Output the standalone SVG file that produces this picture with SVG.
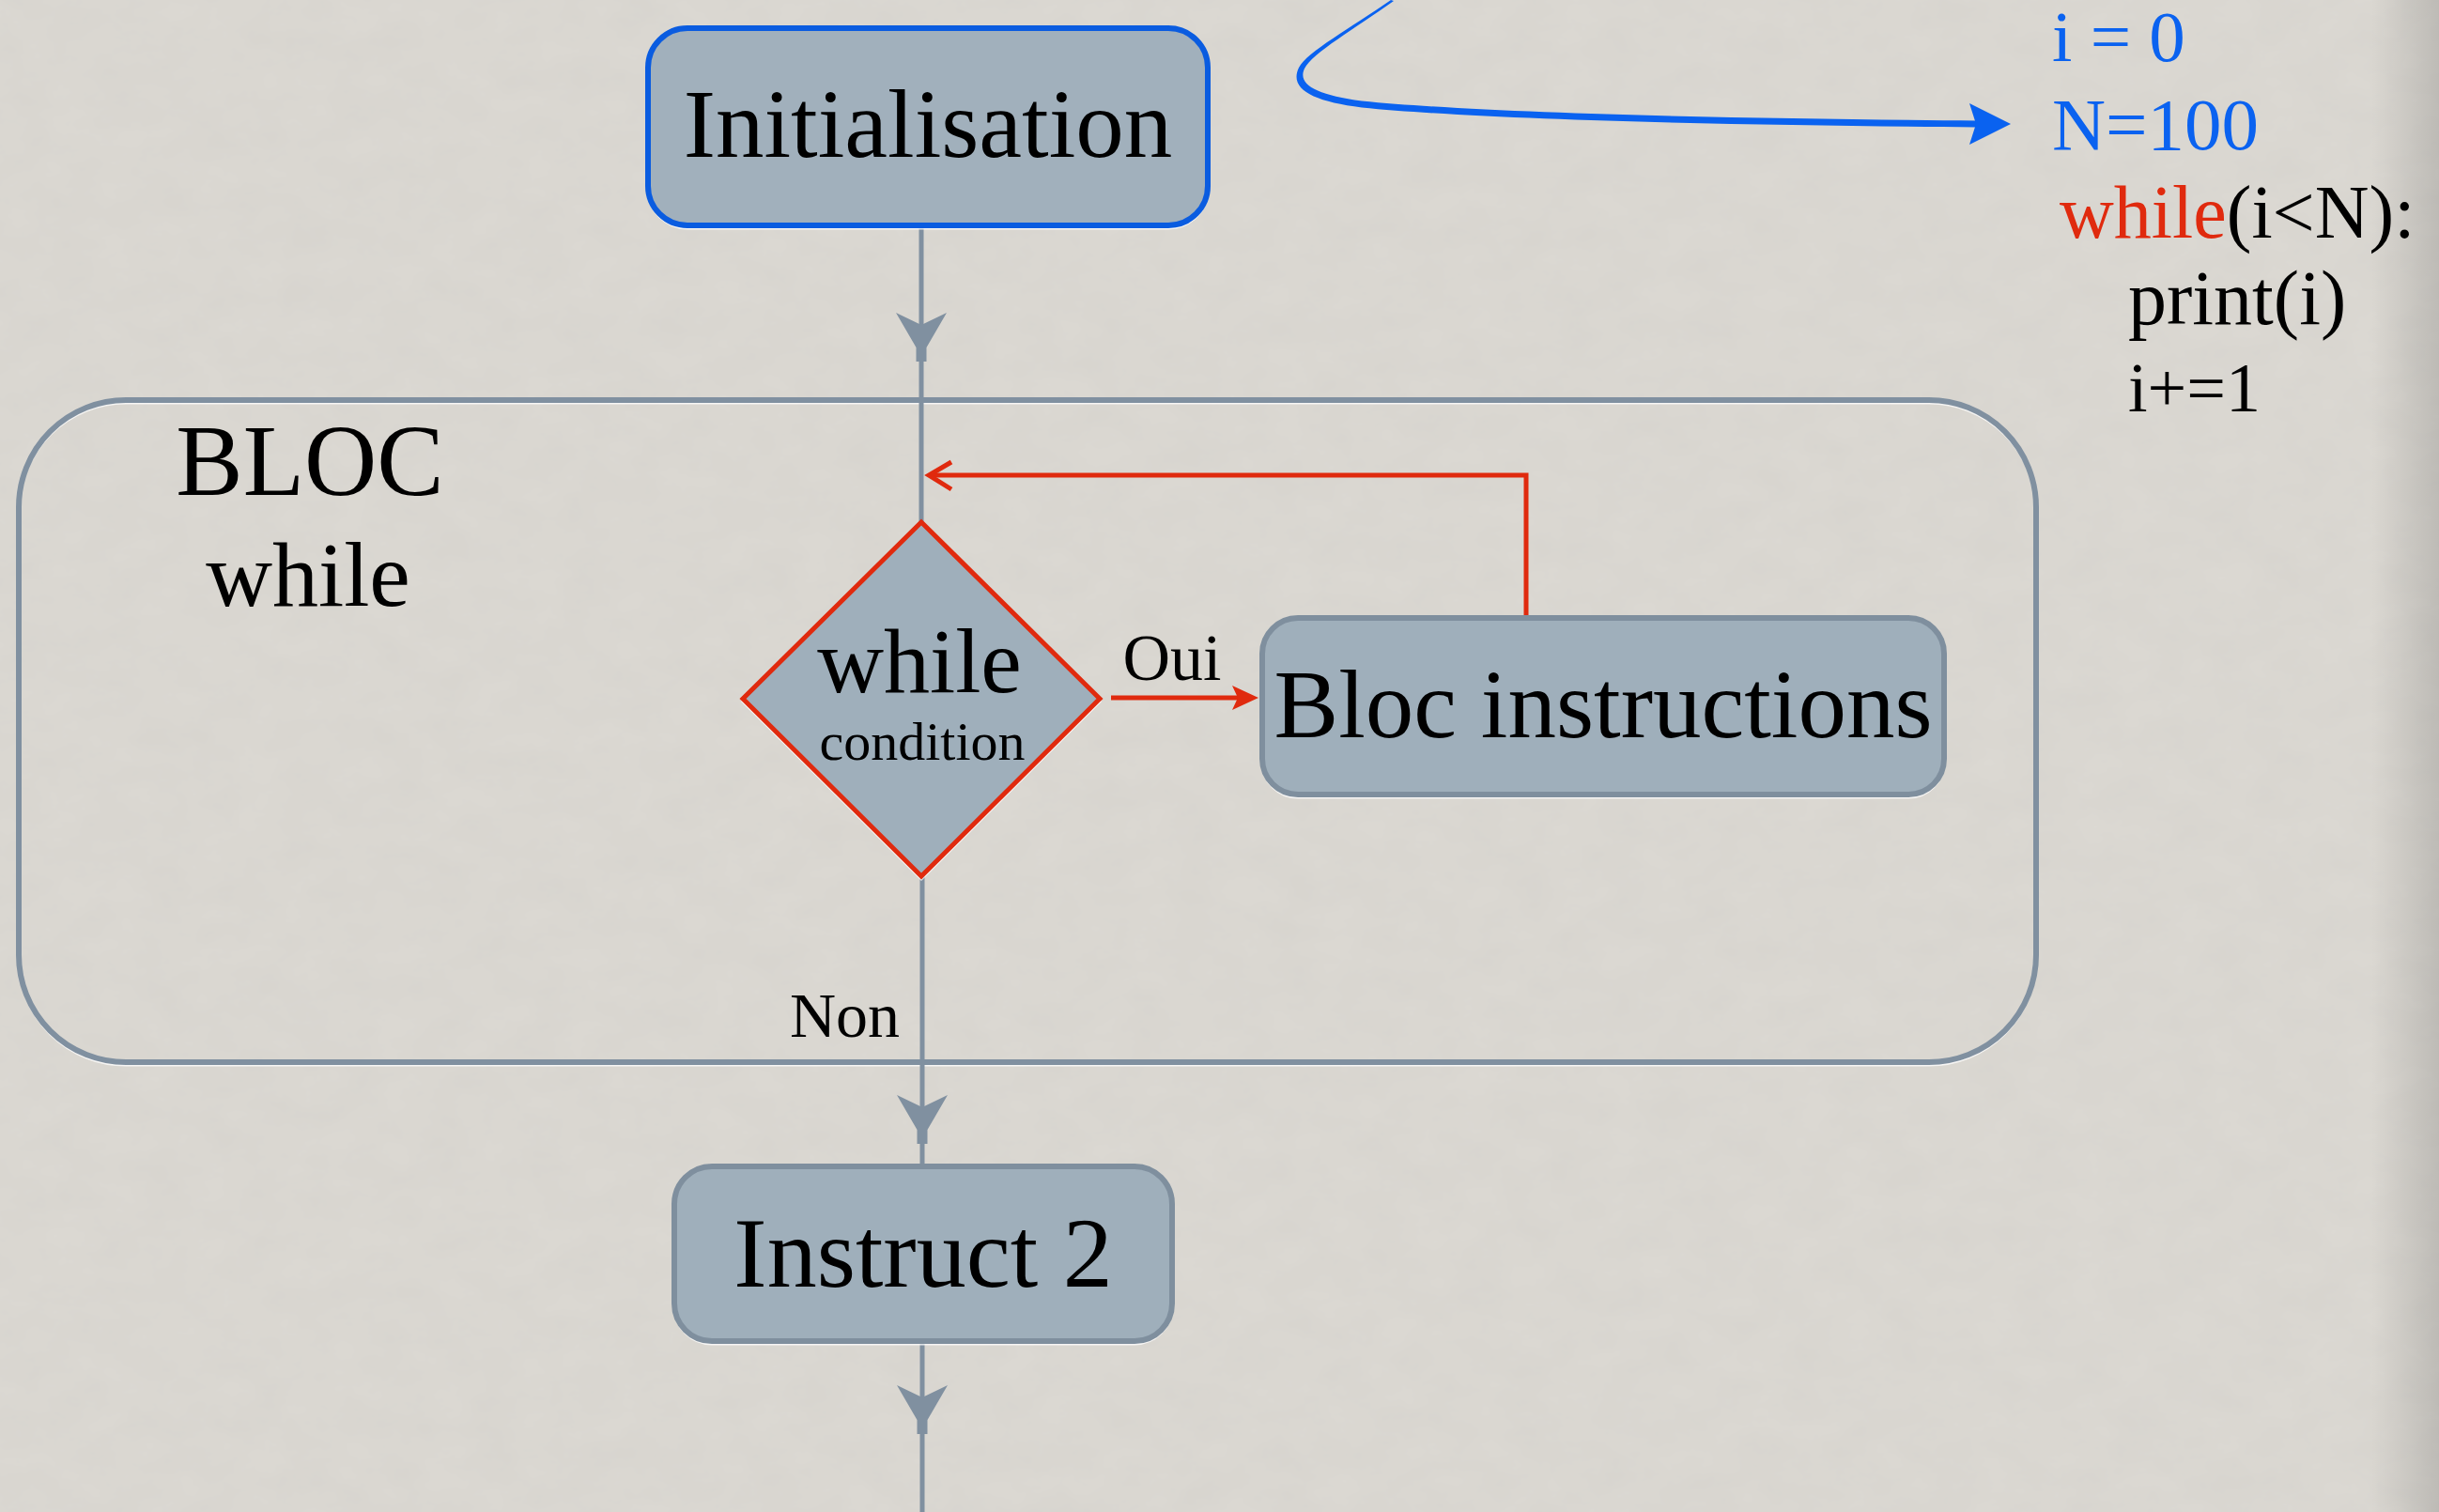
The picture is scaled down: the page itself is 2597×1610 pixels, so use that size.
<svg xmlns="http://www.w3.org/2000/svg" width="2597" height="1610" viewBox="0 0 2597 1610">
  <defs>
    <style>
      .txt { font-family: "Liberation Serif", "DejaVu Serif", serif; fill: #000; }
      .node { fill: #9fafbb; stroke: #7f8f9e; stroke-width: 6; }
      .glow { fill: none; stroke: #ffffff; stroke-opacity: 0.75; stroke-width: 3; }
      .flow { fill: none; stroke: #8090a0; stroke-width: 5; }
      .red { fill: none; stroke: #e02a0e; stroke-width: 5; }
    </style>
    <filter id="grain" x="0" y="0" width="100%" height="100%">
      <feTurbulence type="fractalNoise" baseFrequency="0.02 0.03" numOctaves="4" seed="7" result="n"/>
      <feColorMatrix type="matrix" values="0 0 0 0 0.45  0 0 0 0 0.44  0 0 0 0 0.42  0 0 0 0.12 0" />
    </filter>
    <linearGradient id="edge" x1="0" y1="0" x2="1" y2="0">
      <stop offset="0" stop-color="#000" stop-opacity="0"/>
      <stop offset="1" stop-color="#000" stop-opacity="0.13"/>
    </linearGradient>
    <!-- barbed arrowhead for the grey flow line, wing line at y=0 -->
    <path id="garrow" d="M-27,0 L0,13 L27,0 L5.5,37 L5.5,52 L-5.5,52 L-5.5,37 Z" fill="#8090a0"/>
  </defs>

  <!-- paper background -->
  <rect width="2597" height="1610" fill="#dcd9d3"/>
  <rect width="2597" height="1610" filter="url(#grain)"/>
  <rect x="2525" y="0" width="72" height="1610" fill="url(#edge)"/>

  <!-- while block container -->
  <g id="bloc-while">
    <rect class="glow" x="20" y="429" width="2148" height="705" rx="114"/>
    <rect x="20" y="426" width="2148" height="705" rx="114" fill="none" stroke="#8090a0" stroke-width="6"/>
    <text class="txt" x="330" y="527" font-size="107" text-anchor="middle">BLOC</text>
    <text class="txt" x="328" y="645" font-size="98" text-anchor="middle">while</text>
  </g>

  <!-- connectors -->
  <g id="connectors">
    <line class="flow" x1="981" y1="242" x2="981" y2="556"/>
    <use href="#garrow" x="981" y="333"/>

    <path class="red" d="M1625,657 V506 H990"/>
    <polyline class="red" points="1013,492 989,506 1013,521"/>

    <line class="red" x1="1183" y1="743" x2="1320" y2="743"/>
    <polygon points="1340,743 1312,730 1318,743 1312,756" fill="#e02a0e"/>
    <text class="txt" x="1248" y="724" font-size="70" text-anchor="middle">Oui</text>

    <line class="flow" x1="982" y1="933" x2="982" y2="1241"/>
    <use href="#garrow" x="982" y="1166"/>
    <text class="txt" x="958" y="1104" font-size="68" text-anchor="end">Non</text>

    <line class="flow" x1="982" y1="1429" x2="982" y2="1610"/>
    <use href="#garrow" x="982" y="1475"/>

    <!-- blue pointer to the code listing: a tapered stroke, thin at the top, wide along the bottom -->
    <path fill="#0a62f0" d="M1481,0 C1438,30 1392,55 1383,72 C1372,95 1398,108 1450,114.5 C1600,129.5 1900,133.5 2105,135.5 L2105,128.5 C1900,126.5 1600,122.5 1450,107.5 C1402,101 1381,90 1389,73 C1398,56 1442,31 1484,1 Z"/>
    <polygon points="2141,132 2097,110 2104,132 2097,154" fill="#0a62f0"/>
  </g>

  <g id="initialisation">
    <rect class="glow" x="690" y="33" width="596" height="210" rx="42"/>
    <rect x="690" y="30" width="596" height="210" rx="42" fill="#a1b0bc" stroke="#0a5ce0" stroke-width="6"/>
    <text class="txt" x="988" y="167" font-size="103" text-anchor="middle">Initialisation</text>
  </g>

  <g id="while-condition">
    <polygon class="glow" points="981,559 1171,747 981,936 791,747"/>
    <polygon points="981,556 1171,744 981,933 791,744" fill="#9fafbb" stroke="#e02a0e" stroke-width="5"/>
    <text class="txt" x="979" y="737" font-size="98" text-anchor="middle">while</text>
    <text class="txt" x="982" y="809" font-size="58" text-anchor="middle">condition</text>
  </g>

  <g id="bloc-instructions">
    <rect class="glow" x="1344" y="661" width="726" height="188" rx="38"/>
    <rect class="node" x="1344" y="658" width="726" height="188" rx="38"/>
    <text class="txt" x="1707" y="785" font-size="103" text-anchor="middle">Bloc instructions</text>
  </g>

  <g id="instruct-2">
    <rect class="glow" x="718" y="1245" width="530" height="186" rx="40"/>
    <rect class="node" x="718" y="1242" width="530" height="186" rx="40"/>
    <text class="txt" x="983" y="1370" font-size="106" text-anchor="middle">Instruct 2</text>
  </g>

  <!-- python listing -->
  <g id="code">
    <text class="txt" x="2185" y="65" font-size="77" style="fill:#0a62f0">i = 0</text>
    <text class="txt" x="2185" y="159" font-size="79" style="fill:#0a62f0">N=100</text>
    <text class="txt" x="2193" y="253" font-size="80"><tspan style="fill:#e02a0e">while</tspan>(i&lt;N):</text>
    <text class="txt" x="2266" y="345" font-size="82">print(i)</text>
    <text class="txt" x="2266" y="438" font-size="74">i+=1</text>
  </g>
</svg>
